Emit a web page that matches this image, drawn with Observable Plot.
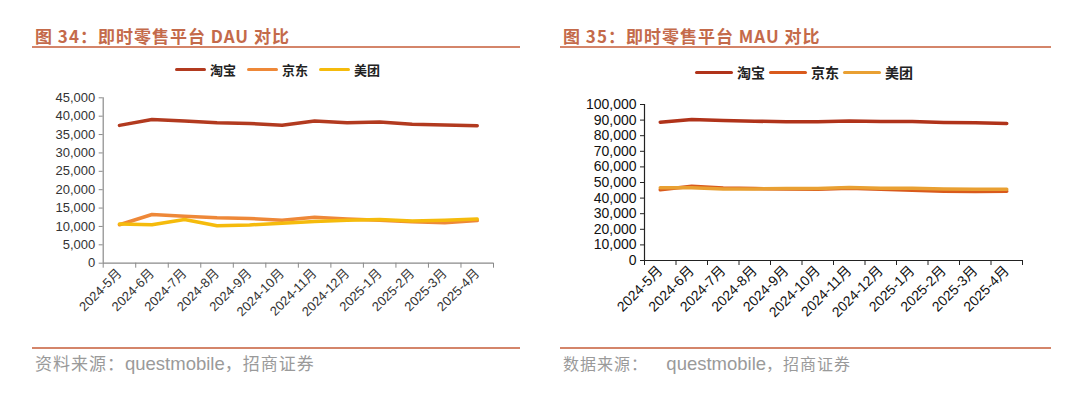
<!DOCTYPE html>
<html>
<head>
<meta charset="utf-8">
<script src="https://cdn.jsdelivr.net/npm/d3@7"></script>
<script src="https://cdn.jsdelivr.net/npm/@observablehq/plot@0.6"></script>
<style>
  html, body { margin:0; padding:0; background:#fff; }
  body { width:1080px; height:396px; position:relative; overflow:hidden; font-family:"Liberation Sans", Arial, "Noto Sans CJK SC", sans-serif; }
  .abs { position:absolute; }
  .title { font-family:"Noto Sans CJK SC", sans-serif; font-weight:700; color:#c46a4a; font-size:17px; white-space:nowrap; letter-spacing:1px; }
  .rule { height:2px; background:#d4856a; }
  .src { font-family:"Noto Sans CJK SC", sans-serif; color:#9a9a9a; white-space:nowrap; letter-spacing:1px; }
  .src .en { font-family:"Liberation Sans", Arial, sans-serif; font-size:18.5px; letter-spacing:0; }
  .leg { display:flex; align-items:center; white-space:nowrap; font-family:"Noto Sans CJK SC", sans-serif; font-weight:700; color:#222; }
  .leg .sw { display:inline-block; height:3px; border-radius:2px; }
</style>
</head>
<body>
<div id="root"></div>
<script>
// ---- data ----
const months = ["2024-5月","2024-6月","2024-7月","2024-8月","2024-9月","2024-10月","2024-11月","2024-12月","2025-1月","2025-2月","2025-3月","2025-4月"];
const seriesNames = ["淘宝","京东","美团"];

const dauTaobao  = [37500, 39100, 38700, 38200, 38000, 37550, 38700, 38200, 38400, 37800, 37600, 37400];
const dauJD      = [10450, 13250, 12800, 12350, 12150, 11700, 12500, 12050, 11700, 11250, 11000, 11600];
const dauMeituan = [10650, 10450, 11900, 10200, 10400, 10900, 11350, 11700, 11900, 11500, 11700, 12000];

const mauTaobao  = [88650, 90400, 89700, 89300, 88900, 88900, 89500, 89100, 89100, 88500, 88300, 87800];
const mauJD      = [45300, 47600, 46500, 46100, 45900, 45700, 46300, 45700, 45100, 44400, 44200, 44400];
const mauMeituan = [46600, 46600, 45900, 45900, 46100, 46100, 46800, 46300, 46300, 45900, 45700, 45700];

const dauTicks = [0,5000,10000,15000,20000,25000,30000,35000,40000,45000];
const mauTicks = [0,10000,20000,30000,40000,50000,60000,70000,80000,90000,100000];

const leftColors  = ["#b23a1f", "#ee8838", "#f5bb0c"];
const rightColors = ["#b0331a", "#d95a1c", "#e9a032"];

// ---- helpers ----
const root = document.getElementById("root");
function el(cls, style, html) {
  const d = document.createElement("div");
  d.className = "abs " + cls;
  Object.assign(d.style, style);
  if (html != null) d.innerHTML = html;
  root.appendChild(d);
  return d;
}
function rowsFrom(arrs) {
  const rows = [];
  arrs.forEach((arr, s) => arr.forEach((v, i) => rows.push({series: seriesNames[s], i, month: months[i], v})));
  return rows;
}
const idx = months.map((_, i) => i);
const bounds = d3.range(-0.5, months.length, 1);
const fmt = d3.format(",");

function panel(o) {
  const rows = rowsFrom(o.data);
  const svg = Plot.plot({
    width: 540, height: 260,
    marginLeft: o.ml, marginRight: o.mr, marginTop: o.mt, marginBottom: o.mb,
    style: { fontFamily: '"Liberation Sans", Arial, "Noto Sans CJK SC", sans-serif', background: "transparent", color: o.textColor, overflow: "visible" },
    x: { type: "linear", domain: [-0.5, months.length - 0.5] },
    y: { domain: [0, o.yTicks[o.yTicks.length - 1]] },
    color: { domain: seriesNames, range: o.colors },
    marks: [
      Plot.ruleX([-0.5], { stroke: o.axisColor, strokeWidth: 1.2 }),
      Plot.ruleY([0], { stroke: o.axisColor, strokeWidth: 1.2 }),
      Plot.axisY({ ticks: o.yTicks, tickFormat: fmt, tickSize: 4, tickPadding: 4, fontSize: o.yFont, stroke: o.axisColor, fill: o.textColor, label: null }),
      Plot.axisX({ ticks: bounds, tickFormat: () => "", tickSize: 5, stroke: o.axisColor, label: null }),
      Plot.axisX({ ticks: idx, tickFormat: i => months[i], tickSize: 0, tickPadding: 8, tickRotate: -45, fontSize: o.xFont, fill: o.textColor, label: null }),
      Plot.line(rows, { x: "i", y: "v", z: "series", stroke: "series", strokeWidth: o.lw, strokeLinejoin: "round", strokeLinecap: "round" })
    ]
  });
  svg.style.position = "absolute";
  svg.style.left = o.left + "px";
  svg.style.top = o.top + "px";
  root.appendChild(svg);
}

// ---- left panel ----
el("title", { left: "35px", top: "23px" }, "图 34：即时零售平台 DAU 对比");
el("rule", { left: "32px", top: "46px", width: "488px" });
{
  const lg = el("leg", { left: "175px", top: "60px", fontSize: "13px", height: "18px" });
  lg.innerHTML = seriesNames.map((n, k) =>
    `<span class="sw" style="width:31px;background:${leftColors[k]};margin-right:4px"></span><span style="margin-right:11px">${n}</span>`).join("");
}
panel({ data: [dauTaobao, dauJD, dauMeituan], yTicks: dauTicks, colors: leftColors,
  left: 0, top: 85, ml: 102.7, mr: 47, mt: 12.3, mb: 82.3,
  axisColor: "#8a8a8a", textColor: "#333", yFont: 13, xFont: 13, lw: 3.5 });
el("rule", { left: "32px", top: "347px", width: "488px" });
el("src", { left: "35px", top: "350px", fontSize: "17px" }, '资料来源：<span class="en">questmobile</span>，招商证券');

// ---- right panel ----
el("title", { left: "563px", top: "23px" }, "图 35：即时零售平台 MAU 对比");
el("rule", { left: "560px", top: "46px", width: "491px" });
{
  const lg = el("leg", { left: "695px", top: "62px", fontSize: "14px", height: "20px" });
  lg.innerHTML = seriesNames.map((n, k) =>
    `<span class="sw" style="width:38px;background:${rightColors[k]};margin-right:4px"></span><span style="margin-right:4px">${n}</span>`).join("");
}
panel({ data: [mauTaobao, mauJD, mauMeituan], yTicks: mauTicks, colors: rightColors,
  left: 540, top: 85, ml: 104, mr: 58, mt: 19, mb: 85,
  axisColor: "#222", textColor: "#111", yFont: 14, xFont: 14, lw: 3.5 });
el("rule", { left: "560px", top: "347px", width: "491px" });
el("src", { left: "563px", top: "351px", fontSize: "16px" }, '数据来源：&nbsp;&nbsp;&nbsp;&nbsp;<span class="en">questmobile</span>，招商证券');
</script>
</body>
</html>
